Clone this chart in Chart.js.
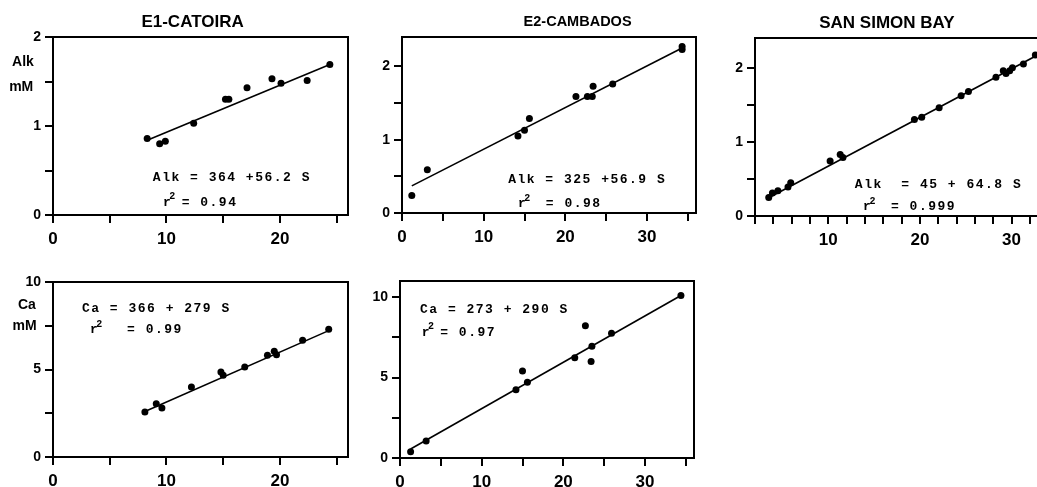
<!DOCTYPE html>
<html>
<head>
<meta charset="utf-8">
<script src="https://cdn.jsdelivr.net/npm/chart.js@4.4.1/dist/chart.umd.min.js"></script>
<style>
  html, body { margin: 0; padding: 0; background: #fff; overflow: hidden; }
  body { width: 1037px; height: 487px; position: relative; }
  .panel { position: absolute; }
</style>
</head>
<body>
<div class="panel" style="left:3px; top:0px; width:349px; height:249px;"><canvas id="e1AlkChart"></canvas></div>
<div class="panel" style="left:352px; top:0px; width:348px; height:247px;"><canvas id="e2AlkChart"></canvas></div>
<div class="panel" style="left:705px; top:0px; width:338px; height:250px;"><canvas id="ssbAlkChart"></canvas></div>
<div class="panel" style="left:3px; top:250px; width:349px; height:241px;"><canvas id="e1CaChart"></canvas></div>
<div class="panel" style="left:350px; top:250px; width:348px; height:242px;"><canvas id="e2CaChart"></canvas></div>
<script>
// E1-Catoira, alkalinity vs salinity
const e1AlkSal = [8.3, 9.4, 9.9, 12.4, 15.2, 15.5, 17.1, 19.3, 20.1, 22.4, 24.4];
const e1Alk = [0.86, 0.80, 0.83, 1.03, 1.30, 1.30, 1.43, 1.53, 1.48, 1.51, 1.69];
const e1AlkFitSal = [8.3, 24.4];
const e1AlkFit = [0.84, 1.69];

// E2-Cambados, alkalinity
const e2AlkSal = [1.2, 3.1, 14.2, 15.0, 15.6, 21.3, 22.7, 23.3, 23.4, 25.8, 34.3, 34.3];
const e2Alk = [0.24, 0.59, 1.05, 1.13, 1.29, 1.59, 1.59, 1.59, 1.73, 1.76, 2.27, 2.23];
const e2AlkFitSal = [1.2, 34.3];
const e2AlkFit = [0.37, 2.25];

// San Simon Bay, alkalinity
const ssbSal = [3.5, 3.9, 4.5, 5.6, 5.9, 10.2, 11.3, 11.6, 19.4, 20.2, 22.1, 24.5, 25.3, 28.3, 29.1, 29.4, 29.8, 30.1, 31.3, 32.6];
const ssbAlk = [0.25, 0.31, 0.34, 0.39, 0.45, 0.74, 0.83, 0.79, 1.30, 1.33, 1.46, 1.62, 1.68, 1.87, 1.96, 1.92, 1.96, 2.00, 2.05, 2.17];
const ssbFitSal = [3.4, 33];
const ssbFit = [0.24, 2.18];

// E1-Catoira, calcium
const e1CaSal = [8.1, 9.1, 9.6, 12.2, 14.8, 15.0, 16.9, 18.9, 19.5, 19.7, 22.0, 24.3];
const e1Ca = [2.57, 3.05, 2.80, 4.0, 4.86, 4.67, 5.14, 5.81, 6.04, 5.85, 6.67, 7.30];
const e1CaFitSal = [8.1, 24.4];
const e1CaFit = [2.6, 7.25];

// E2-Cambados, calcium
const e2CaSal = [1.3, 3.2, 14.2, 15.0, 15.6, 21.4, 22.7, 23.5, 23.4, 25.9, 34.4];
const e2Ca = [0.39, 1.06, 4.24, 5.40, 4.70, 6.23, 8.22, 6.94, 6.0, 7.76, 10.1];
const e2CaFitSal = [1.3, 34.4];
const e2CaFit = [0.56, 10.1];

// tick labels
const xLabels25 = [0, 10, 20];
const xLabels35 = [0, 10, 20, 30];
const xLabelsSsb = [10, 20, 30];
const yLabelsAlk = [0, 1, 2];
const yLabelsCa = [0, 5, 10];

const typedFont = 'bold 13px "Liberation Mono", "DejaVu Sans Mono", monospace';
const supFont = 'bold 10px "Liberation Mono", "DejaVu Sans Mono", monospace';

function pts(xs, ys) {
    return xs.map((x, i) => ({ x: x, y: ys[i] }));
}

// typewriter text, fixed pitch; "^" makes the next char a superscript
function drawTyped(ctx, text, x, y, pitch) {
    let slot = 0;
    let sup = false;
    ctx.font = typedFont;
    for (const ch of text) {
        if (ch === '^') { sup = true; continue; }
        if (sup) {
            ctx.font = supFont;
            ctx.fillText(ch, x + slot * pitch - 3, y - 6);
            ctx.font = typedFont;
            sup = false;
        } else {
            ctx.fillText(ch, x + slot * pitch, y);
        }
        slot++;
    }
}

// frame box + labels placed in data coordinates
const notesPlugin = {
    id: 'notes',
    afterDraw(chart, args, opts) {
        const ctx = chart.ctx;
        const a = chart.chartArea;
        const xs = chart.scales.x;
        const ys = chart.scales.y;
        ctx.save();
        ctx.strokeStyle = '#000';
        ctx.lineWidth = 2;
        ctx.strokeRect(a.left, a.top, a.right - a.left, a.bottom - a.top);
        ctx.fillStyle = '#000';
        ctx.textBaseline = 'middle';
        ctx.textAlign = 'center';
        (opts.labels || []).forEach(l => {
            ctx.font = l.font;
            ctx.fillText(l.text, xs.getPixelForValue(l.x), ys.getPixelForValue(l.y));
        });
        ctx.textAlign = 'left';
        (opts.typed || []).forEach(t => {
            drawTyped(ctx, t.text, xs.getPixelForValue(t.x), ys.getPixelForValue(t.y), 9.3);
        });
        ctx.restore();
    }
};

function makePanel(id, o) {
    const ctx = document.getElementById(id).getContext('2d');
    return new Chart(ctx, {
        type: 'scatter',
        data: {
            datasets: [{
                data: pts(o.sal, o.val),
                backgroundColor: '#000',
                borderWidth: 0,
                pointRadius: 3.5
            }, {
                data: pts(o.fitSal, o.fit),
                showLine: true,
                borderColor: '#000',
                borderWidth: 1.6,
                pointRadius: 0
            }]
        },
        plugins: [notesPlugin],
        options: {
            responsive: true,
            maintainAspectRatio: false,
            animation: false,
            layout: { padding: { top: o.padTop, right: 4, left: 0, bottom: 0 } },
            plugins: {
                legend: { display: false },
                tooltip: { enabled: false },
                notes: { labels: o.labels, typed: o.typed }
            },
            scales: {
                x: {
                    min: o.xMin,
                    max: o.xMax,
                    afterFit: s => { s.height = 34; },
                    border: { color: '#000', width: 2 },
                    grid: { drawOnChartArea: false, tickLength: 8, color: '#000', lineWidth: 2 },
                    ticks: {
                        stepSize: o.xStep,
                        includeBounds: false,
                        autoSkip: false,
                        maxRotation: 0,
                        padding: 6,
                        color: '#000',
                        font: { family: '"Liberation Sans", Arial, sans-serif', size: 17, weight: 'bold' },
                        callback: v => o.xLabels.includes(v) ? String(v) : ''
                    }
                },
                y: {
                    min: 0,
                    max: o.yMax,
                    afterFit: s => { s.width = 50; },
                    border: { color: '#000', width: 2 },
                    grid: { drawOnChartArea: false, tickLength: 8, color: '#000', lineWidth: 2 },
                    ticks: {
                        stepSize: o.yStep,
                        includeBounds: false,
                        autoSkip: false,
                        padding: 4,
                        color: '#000',
                        font: { family: '"Liberation Sans", Arial, sans-serif', size: 14, weight: 'bold' },
                        callback: v => o.yLabels.includes(v) ? String(v) : ''
                    }
                }
            }
        }
    });
}

const sansBold = s => 'bold ' + s + 'px "Liberation Sans", Arial, sans-serif';

makePanel('e1AlkChart', {
    sal: e1AlkSal, val: e1Alk, fitSal: e1AlkFitSal, fit: e1AlkFit,
    xMin: 0, xMax: 26, xStep: 5, xLabels: xLabels25,
    yMax: 2, yStep: 0.5, yLabels: yLabelsAlk, padTop: 37,
    labels: [
        { text: 'E1-CATOIRA', x: 12.3, y: 2.17, font: sansBold(17) },
        { text: 'Alk', x: -2.65, y: 1.72, font: sansBold(14) },
        { text: 'mM', x: -2.8, y: 1.44, font: sansBold(14) }
    ],
    typed: [
        { text: 'Alk = 364 +56.2 S', x: 8.8, y: 0.415 },
        { text: 'r^2= 0.94', x: 9.7, y: 0.14 }
    ]
});

makePanel('e2AlkChart', {
    sal: e2AlkSal, val: e2Alk, fitSal: e2AlkFitSal, fit: e2AlkFit,
    xMin: 0, xMax: 36, xStep: 5, xLabels: xLabels35,
    yMax: 2.4, yStep: 0.5, yLabels: yLabelsAlk, padTop: 37,
    labels: [
        { text: 'E2-CAMBADOS', x: 21.5, y: 2.6, font: sansBold(14.5) }
    ],
    typed: [
        { text: 'Alk = 325 +56.9 S', x: 13.0, y: 0.46 },
        { text: 'r^2 = 0.98', x: 14.2, y: 0.12 }
    ]
});

makePanel('ssbAlkChart', {
    sal: ssbSal, val: ssbAlk, fitSal: ssbFitSal, fit: ssbFit,
    xMin: 2, xMax: 33, xStep: 2, xLabels: xLabelsSsb,
    yMax: 2.4, yStep: 0.5, yLabels: yLabelsAlk, padTop: 38,
    labels: [
        { text: 'SAN SIMON BAY', x: 16.4, y: 2.6, font: sansBold(17) }
    ],
    typed: [
        { text: 'Alk  = 45 + 64.8 S', x: 12.9, y: 0.42 },
        { text: 'r^2 = 0.999', x: 13.8, y: 0.12 }
    ]
});

makePanel('e1CaChart', {
    sal: e1CaSal, val: e1Ca, fitSal: e1CaFitSal, fit: e1CaFit,
    xMin: 0, xMax: 26, xStep: 5, xLabels: xLabels25,
    yMax: 10, yStep: 2.5, yLabels: yLabelsCa, padTop: 32,
    labels: [
        { text: 'Ca', x: -2.3, y: 8.7, font: sansBold(14) },
        { text: 'mM', x: -2.5, y: 7.45, font: sansBold(14) }
    ],
    typed: [
        { text: 'Ca = 366 + 279 S', x: 2.55, y: 8.5 },
        { text: 'r^2  = 0.99', x: 3.25, y: 7.25 }
    ]
});

makePanel('e2CaChart', {
    sal: e2CaSal, val: e2Ca, fitSal: e2CaFitSal, fit: e2CaFit,
    xMin: 0, xMax: 36, xStep: 5, xLabels: xLabels35,
    yMax: 11, yStep: 2.5, yLabels: yLabelsCa, padTop: 31,
    labels: [],
    typed: [
        { text: 'Ca = 273 + 290 S', x: 2.45, y: 9.2 },
        { text: 'r^2= 0.97', x: 2.65, y: 7.77 }
    ]
});
</script>
</body>
</html>
